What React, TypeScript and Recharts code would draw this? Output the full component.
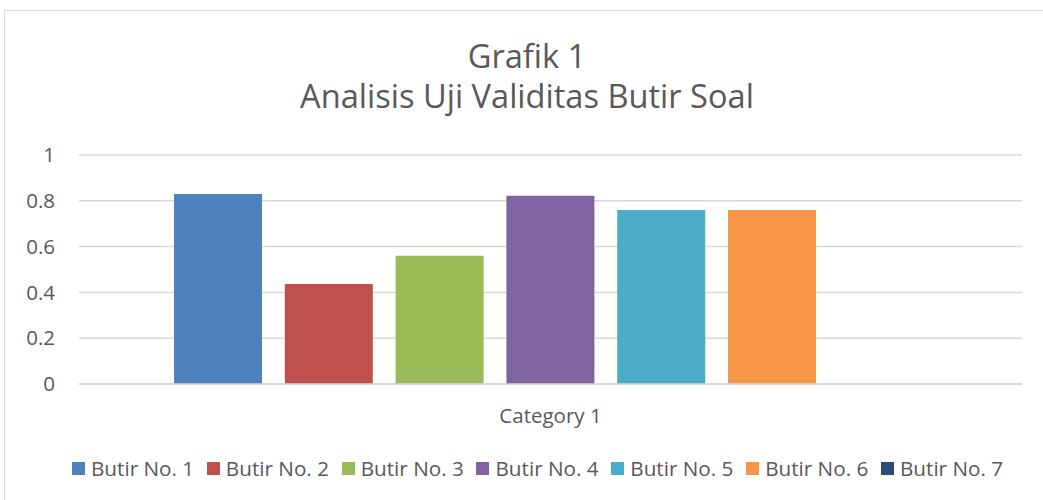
import React from 'react';
import { BarChart, Bar, XAxis, YAxis, CartesianGrid } from 'recharts';

const categories = ['Category 1'];
const seriesNames = ['Butir No. 1', 'Butir No. 2', 'Butir No. 3', 'Butir No. 4', 'Butir No. 5', 'Butir No. 6', 'Butir No. 7'];
const seriesValues = [0.83, 0.437, 0.56, 0.822, 0.76, 0.76, 0];
const seriesColors = ['#4F81BD', '#C0504D', '#9BBB59', '#8064A2', '#4BACC6', '#F79646', '#2C4D75'];
const yTicks = [0, 0.2, 0.4, 0.6, 0.8, 1];
const titleLines = ['Grafik 1', 'Analisis Uji Validitas Butir Soal'];

const FONT = '"Open Sans", "Noto Sans", sans-serif';
const TEXT = '#595959';
const GRID = '#D9D9D9';

const data = categories.map((c) => {
  const row: Record<string, string | number> = { name: c };
  seriesNames.forEach((s, i) => {
    row['s' + i] = seriesValues[i];
  });
  return row;
});

export default function App() {
  return (
    <div style={{ position: 'absolute', left: 0, top: 0, width: 1043, height: 500, overflow: 'hidden', background: '#fff', fontFamily: FONT }}>
      <div style={{ position: 'absolute', left: 4, top: 10, width: 1080, height: 520, border: '1px solid ' + GRID, boxSizing: 'border-box' }} />
      <div style={{ position: 'absolute', left: 0, top: 0 }}>
        <BarChart
          width={1043}
          height={500}
          data={data}
          margin={{ top: 155, right: 21, left: 19, bottom: 76 }}
          barCategoryGap={95}
          barGap={22.8}
        >
          <CartesianGrid vertical={false} stroke={GRID} strokeWidth={1.5} />
          <XAxis
            dataKey="name"
            height={40}
            axisLine={{ stroke: GRID, strokeWidth: 1.5 }}
            tickLine={false}
            tickSize={0}
            tickMargin={24}
            tick={{ fill: TEXT, fontSize: 20.5, fontFamily: FONT }}
          />
          <YAxis
            width={60}
            domain={[0, 1]}
            ticks={yTicks}
            axisLine={false}
            tickLine={false}
            tickSize={0}
            tickMargin={24}
            tick={{ fill: TEXT, fontSize: 20.5, fontFamily: FONT }}
          />
          {seriesNames.map((s, i) => (
            <Bar key={s} dataKey={'s' + i} name={s} fill={seriesColors[i]} isAnimationActive={false} />
          ))}
        </BarChart>
      </div>
      <div
        style={{ position: 'absolute', left: 0, width: 1054, top: 35.5, textAlign: 'center', color: TEXT, fontSize: 32.6, lineHeight: '40px', whiteSpace: 'pre-line' }}
      >
        {titleLines.join('\n')}
      </div>
      <div style={{ position: 'absolute', left: 72, top: 456, display: 'flex', alignItems: 'center', color: TEXT, fontSize: 20.7, lineHeight: '24px', whiteSpace: 'nowrap' }}>
        {seriesNames.map((s, i) => (
          <div key={s} style={{ display: 'flex', alignItems: 'center', marginRight: 12.7 }}>
            <span style={{ display: 'inline-block', width: 13, height: 13, background: seriesColors[i], marginRight: 6 }} />
            <span>{s}</span>
          </div>
        ))}
      </div>
    </div>
  );
}
